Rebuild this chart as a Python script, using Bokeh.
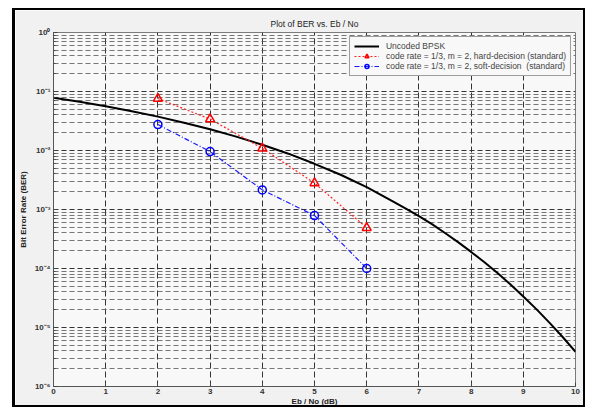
from bokeh.plotting import figure
from bokeh.models import FixedTicker, Legend, LegendItem
from bokeh.embed import file_html
from bokeh.resources import INLINE

# ---- data ----
ebno_bpsk = [0, 0.5, 1, 1.5, 2, 2.5, 3, 3.5, 4, 4.5, 5, 5.5, 6, 6.5, 6.75, 7, 7.25, 7.5, 7.75,
             8, 8.25, 8.5, 8.75, 9, 9.25, 9.5, 9.75, 10]
ber_bpsk = [0.0786, 0.0671, 0.0563, 0.0464, 0.0375, 0.0296, 0.0229, 0.0172, 0.0125, 0.00883,
            0.00595, 0.00388, 0.00239, 0.00137, 0.00103, 0.000773, 0.000565, 0.000400, 0.000280,
            0.000191, 0.000129, 0.0000844, 0.0000540, 0.0000336, 0.0000205, 0.0000121,
            0.00000697, 0.00000387]

ebno_coded = [2, 3, 4, 5, 6]
ber_hard = [0.076, 0.034, 0.0109, 0.0028, 0.00049]
ber_soft = [0.0275, 0.0096, 0.00215, 0.00079, 0.0001]

x_ticks = [0, 1, 2, 3, 4, 5, 6, 7, 8, 9, 10]
y_ticks = [1e-6, 1e-5, 1e-4, 1e-3, 1e-2, 1e-1, 1]
y_tick_labels = ["10\u207b\u2076", "10\u207b\u2075", "10\u207b\u2074", "10\u207b\u00b3",
                 "10\u207b\u00b2", "10\u207b\u00b9", "10\u2070"]
minor_mult = [2, 3, 4, 5, 6, 7, 8, 9]

title_text = "Plot of BER vs. Eb / No"
xlabel_text = "Eb / No (dB)"
ylabel_text = "Bit Error Rate (BER)"
labels = ["Uncoded BPSK",
          "code rate = 1/3, m = 2, hard-decision (standard)",
          "code rate = 1/3, m = 2, soft-decision  (standard)"]

FONT = "Liberation Sans"
W, H = 573, 399

p = figure(width=W, height=H, x_range=(0, 10), y_range=(1e-6, 1), y_axis_type="log",
           output_backend="svg", toolbar_location=None,
           min_border_left=32, min_border_right=13, min_border_top=22, min_border_bottom=23,
           background_fill_color="#f8f8f8", border_fill_color="#f1f1f1",
           styles={"margin-left": "12px", "margin-top": "8px",
                   "border": "2px solid black", "border-left": "3px solid black"})
p.outline_line_color = "#7a7a7a"

p.title.text = title_text
p.title.align = "center"
p.title.text_font = FONT
p.title.text_font_size = "8.5px"
p.title.text_font_style = "normal"
p.title.text_color = "#222222"
p.title.standoff = 7
p.title.offset = 0

minor_pos = [m * t for t in y_ticks[:-1] for m in minor_mult]
p.yaxis.ticker = FixedTicker(ticks=y_ticks, minor_ticks=minor_pos)
p.xaxis.ticker = FixedTicker(ticks=x_ticks)
p.yaxis.major_label_overrides = {t: l for t, l in zip(y_ticks, y_tick_labels)}

p.xaxis.axis_label = xlabel_text
p.yaxis.axis_label = ylabel_text

for ax in (p.xaxis, p.yaxis):
    ax.major_label_text_font = FONT
    ax.major_label_text_font_size = "8px"
    ax.major_label_text_font_style = "bold"
    ax.major_label_text_color = "#333333"
    ax.axis_label_text_font = FONT
    ax.axis_label_text_font_size = "8px"
    ax.axis_label_text_font_style = "bold"
    ax.axis_label_text_color = "#222222"
    ax.axis_label_standoff = 1
    ax.axis_line_color = "#555555"
    ax.major_tick_in = 4
    ax.major_tick_out = 0
    ax.minor_tick_in = 2
    ax.minor_tick_out = 0
    ax.major_tick_line_color = "#444444"
    ax.minor_tick_line_color = "#444444"
    ax.major_label_standoff = 3
p.xaxis.minor_tick_line_color = None
p.xaxis.major_label_standoff = 2
p.xaxis.axis_label_standoff = 0
p.yaxis.axis_label_standoff = 4

p.xgrid.grid_line_color = "#333333"
p.xgrid.grid_line_dash = "6 3"
p.xgrid.grid_line_width = 1
p.ygrid.grid_line_color = "#333333"
p.ygrid.grid_line_dash = "5 3"
p.ygrid.minor_grid_line_color = "#555555"
p.ygrid.minor_grid_line_dash = "5 3"
p.ygrid.minor_grid_line_alpha = 0.8

r0 = p.line(ebno_bpsk, ber_bpsk, line_color="black", line_width=2)
r1l = p.line(ebno_coded, ber_hard, line_color="#ff2020", line_width=1.2, line_dash="2 2")
r1m = p.scatter(ebno_coded, ber_hard, marker="triangle", size=9, fill_color=None,
                line_color="#ff0000", line_width=1.5)
r2l = p.line(ebno_coded, ber_soft, line_color="#1a1aff", line_width=1.2, line_dash="5 2 1 2")
r2m = p.scatter(ebno_coded, ber_soft, marker="circle", size=8, fill_color=None,
                line_color="#0000ff", line_width=1.5)

legend = Legend(items=[LegendItem(label=labels[0], renderers=[r0]),
                       LegendItem(label=labels[1], renderers=[r1l, r1m]),
                       LegendItem(label=labels[2], renderers=[r2l, r2m])],
                location="top_right", margin=4, padding=4, spacing=0,
                label_text_font=FONT, label_text_font_size="8.5px", label_height=10,
                glyph_height=10, glyph_width=25, label_standoff=7,
                border_line_color="#444444", background_fill_color="#f8f8f8",
                background_fill_alpha=1)
p.add_layout(legend)

open("out.html", "w").write(file_html(p, INLINE))
